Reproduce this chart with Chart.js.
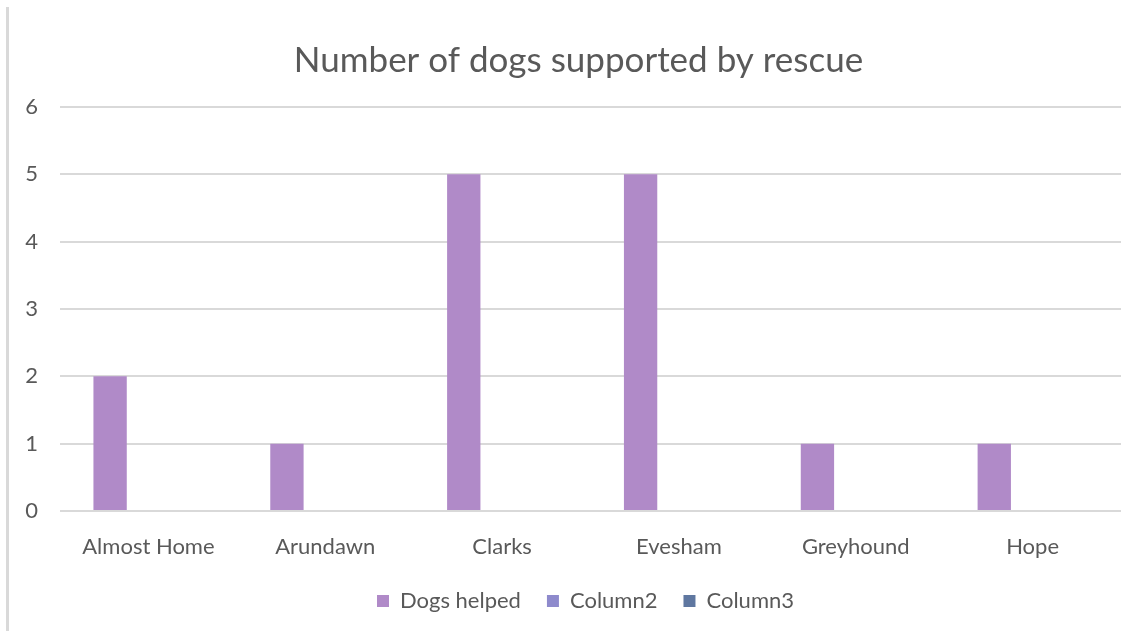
<!DOCTYPE html>
<html>
<head>
<meta charset="utf-8">
<script src="https://cdn.jsdelivr.net/npm/chart.js@4/dist/chart.umd.min.js"></script>
<style>
html,body{margin:0;padding:0;background:#fff;}
#wrap{position:relative;width:1142px;height:631px;}
#edge{position:absolute;left:6px;top:7px;width:3px;height:624px;background:#d9d9d9;}
canvas{position:absolute;left:0;top:0;}
</style>
</head>
<body>
<div id="wrap"><div id="edge"></div><canvas id="c" width="1142" height="631"></canvas></div>
<script>
const categories = ["Almost Home","Arundawn","Clarks","Evesham","Greyhound","Hope"];
const dogsHelped = [2,1,5,5,1,1];
const column2 = [null,null,null,null,null,null];
const column3 = [null,null,null,null,null,null];
const yTicks = [0,1,2,3,4,5,6];

const FONT = "Lato, 'Open Sans', sans-serif";
const TXT = "#595959";

// nudge title and legend horizontally to match the reference centring
const nudge = {
  id: 'nudge',
  afterLayout(chart) {
    const t = chart.titleBlock;
    if (t) { t.left += 13; t.right += 13; }
    const l = chart.legend;
    if (l) { l.left += 20; l.right += 20; }
  }
};

new Chart(document.getElementById('c'), {
  type: 'bar',
  data: {
    labels: categories,
    datasets: [
      {label: 'Dogs helped', data: dogsHelped, backgroundColor: '#B08AC8', borderWidth: 0},
      {label: 'Column2', data: column2, backgroundColor: '#8E8ACC', borderWidth: 0},
      {label: 'Column3', data: column3, backgroundColor: '#5F77A0', borderWidth: 0}
    ]
  },
  plugins: [nudge],
  options: {
    responsive: false,
    animation: false,
    devicePixelRatio: 1,
    layout: {padding: {left: 10, right: 21, top: 20, bottom: 9}},
    datasets: {bar: {categoryPercentage: 0.65, barPercentage: 0.87}},
    plugins: {
      title: {display: true, text: 'Number of dogs supported by rescue', color: TXT,
        font: {family: FONT, size: 35, weight: 'normal'}, padding: {top: 20, bottom: 25}},
      legend: {position: 'bottom',
        labels: {color: TXT, font: {family: FONT, size: 22}, boxWidth: 12, boxHeight: 12, padding: 26}},
      tooltip: {enabled: false}
    },
    scales: {
      x: {
        grid: {display: false, drawTicks: false},
        border: {display: false},
        ticks: {color: TXT, font: {family: FONT, size: 22}, padding: 23, maxRotation: 0},
        afterFit: s => { s.height = 53; }
      },
      y: {
        min: 0, max: 6,
        afterBuildTicks: s => { s.ticks = yTicks.map(v => ({value: v})); },
        grid: {color: '#D9D9D9', lineWidth: 2, drawTicks: false},
        border: {display: false},
        ticks: {color: TXT, font: {family: FONT, size: 22}, padding: 22},
        afterFit: s => { s.width = 50; }
      }
    }
  }
});
</script>
</body>
</html>
